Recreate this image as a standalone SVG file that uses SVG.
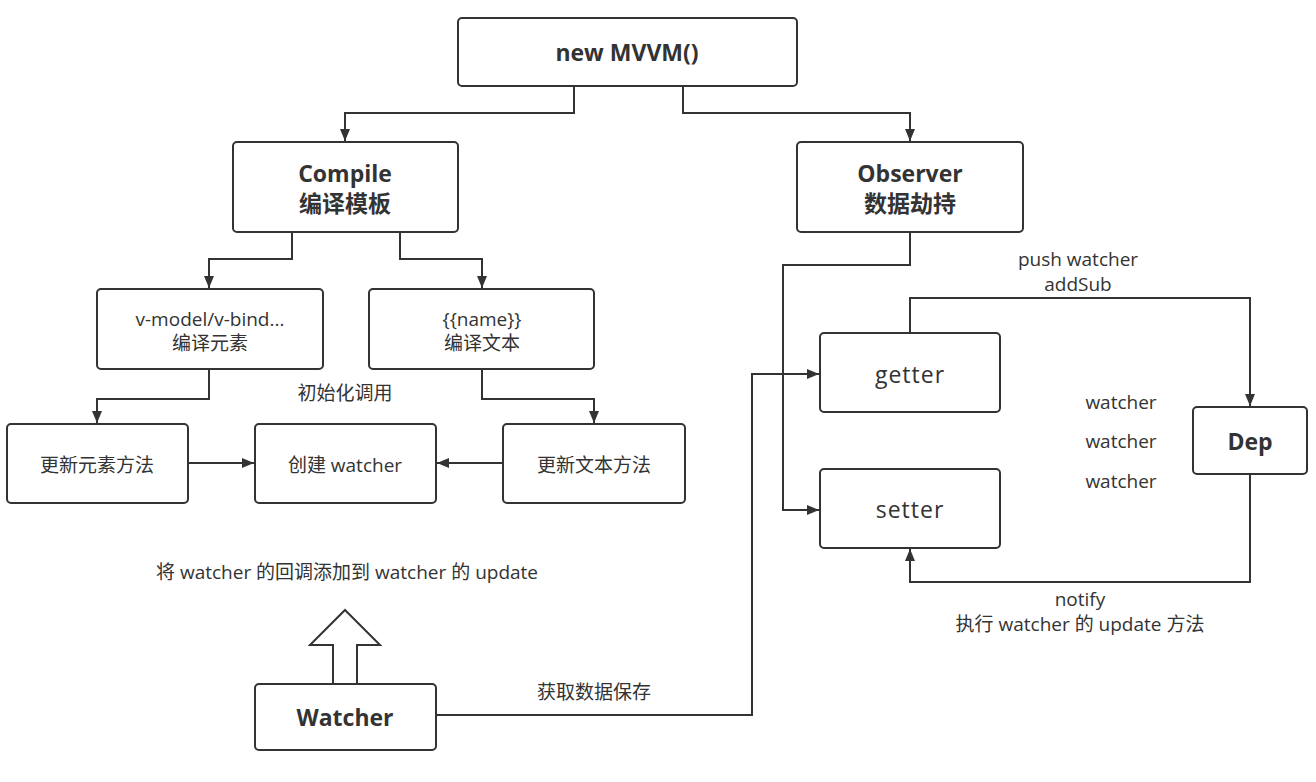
<svg xmlns="http://www.w3.org/2000/svg" width="1316" height="782" viewBox="0 0 1316 782">
<defs>
<marker id="arr" viewBox="0 0 12 10" refX="12" refY="5" markerWidth="12" markerHeight="10" markerUnits="userSpaceOnUse" orient="auto">
<path d="M0,0 L12,5 L0,10 Z" fill="#333"/>
</marker>
</defs>
<style>
.box{fill:#fff;stroke:#333;stroke-width:2}
.t{font-family:"Open Sans","Noto Sans CJK SC",sans-serif;font-size:19px;fill:#333;text-anchor:middle;dominant-baseline:central}
.b{font-weight:bold;font-size:23px}
.big{font-size:23px;letter-spacing:1px}
.c{fill:none;stroke:#333;stroke-width:2}
</style>
<rect width="1316" height="782" fill="#fff"/>
<g id="connectors">
<path class="c" d="M574,86 V113 H345 V141" marker-end="url(#arr)"/>
<path class="c" d="M683,86 V113 H910 V141" marker-end="url(#arr)"/>
<path class="c" d="M292,232 V259 H209 V288" marker-end="url(#arr)"/>
<path class="c" d="M400,232 V259 H482 V288" marker-end="url(#arr)"/>
<path class="c" d="M209,369 V399 H97 V423" marker-end="url(#arr)"/>
<path class="c" d="M482,369 V399 H594 V423" marker-end="url(#arr)"/>
<path class="c" d="M188,463 H254" marker-end="url(#arr)"/>
<path class="c" d="M503,463 H437" marker-end="url(#arr)"/>
<path class="c" d="M910,232 V265 H783 V510 H819" marker-end="url(#arr)"/>
<path class="c" d="M910,333 V298 H1250 V406" marker-end="url(#arr)"/>
<path class="c" d="M1250,474 V582 H910 V549" marker-end="url(#arr)"/>
<path class="c" d="M436,715 H752 V374 H819" marker-end="url(#arr)"/>
<path class="c" d="M345,610 L380,645 H357 V684 H333 V645 H310 Z" fill="#fff"/>
</g>
<g id="mvvm"><rect class="box" x="458" y="18" width="339" height="68" rx="4"/><text class="t b" x="627" y="52">new MVVM()</text></g>
<g id="compile"><rect class="box" x="233" y="142" width="225" height="90" rx="4"/><text class="t b" x="345" y="173">Compile</text><text class="t b" x="345" y="203">编译模板</text></g>
<g id="observer"><rect class="box" x="797" y="142" width="226" height="90" rx="4"/><text class="t b" x="910" y="173">Observer</text><text class="t b" x="910" y="203">数据劫持</text></g>
<g id="vmodel"><rect class="box" x="97" y="289" width="226" height="80" rx="4"/><text class="t" x="210" y="319">v-model/v-bind...</text><text class="t" x="210" y="343">编译元素</text></g>
<g id="name"><rect class="box" x="369" y="289" width="225" height="80" rx="4"/><text class="t" x="482" y="319">{{name}}</text><text class="t" x="482" y="343">编译文本</text></g>
<g id="label-init"><text class="t" x="345" y="393">初始化调用</text></g>
<g id="updateEl"><rect class="box" x="7" y="424" width="181" height="79" rx="4"/><text class="t" x="97" y="465">更新元素方法</text></g>
<g id="createWatcher"><rect class="box" x="255" y="424" width="181" height="79" rx="4"/><text class="t" x="345" y="465">创建 watcher</text></g>
<g id="updateText"><rect class="box" x="503" y="424" width="182" height="79" rx="4"/><text class="t" x="594" y="465">更新文本方法</text></g>
<g id="label-cb"><text class="t" x="347" y="572">将 watcher 的回调添加到 watcher 的 update</text></g>
<g id="watcher"><rect class="box" x="255" y="684" width="181" height="66" rx="4"/><text class="t b" x="345" y="717">Watcher</text></g>
<g id="label-save"><text class="t" x="594" y="692">获取数据保存</text></g>
<g id="getter"><rect class="box" x="820" y="333" width="180" height="79" rx="4"/><text class="t big" x="910" y="374">getter</text></g>
<g id="setter"><rect class="box" x="820" y="469" width="180" height="79" rx="4"/><text class="t big" x="910" y="509">setter</text></g>
<g id="dep"><rect class="box" x="1193" y="407" width="114" height="67" rx="4"/><text class="t b" x="1250" y="441">Dep</text></g>
<g id="label-push"><text class="t" x="1078" y="259">push watcher</text><text class="t" x="1078" y="284">addSub</text></g>
<g id="label-watchers"><text class="t" x="1121" y="402">watcher</text><text class="t" x="1121" y="441">watcher</text><text class="t" x="1121" y="481">watcher</text></g>
<g id="label-notify"><text class="t" x="1080" y="599">notify</text><text class="t" x="1080" y="624">执行 watcher 的 update 方法</text></g>
</svg>
